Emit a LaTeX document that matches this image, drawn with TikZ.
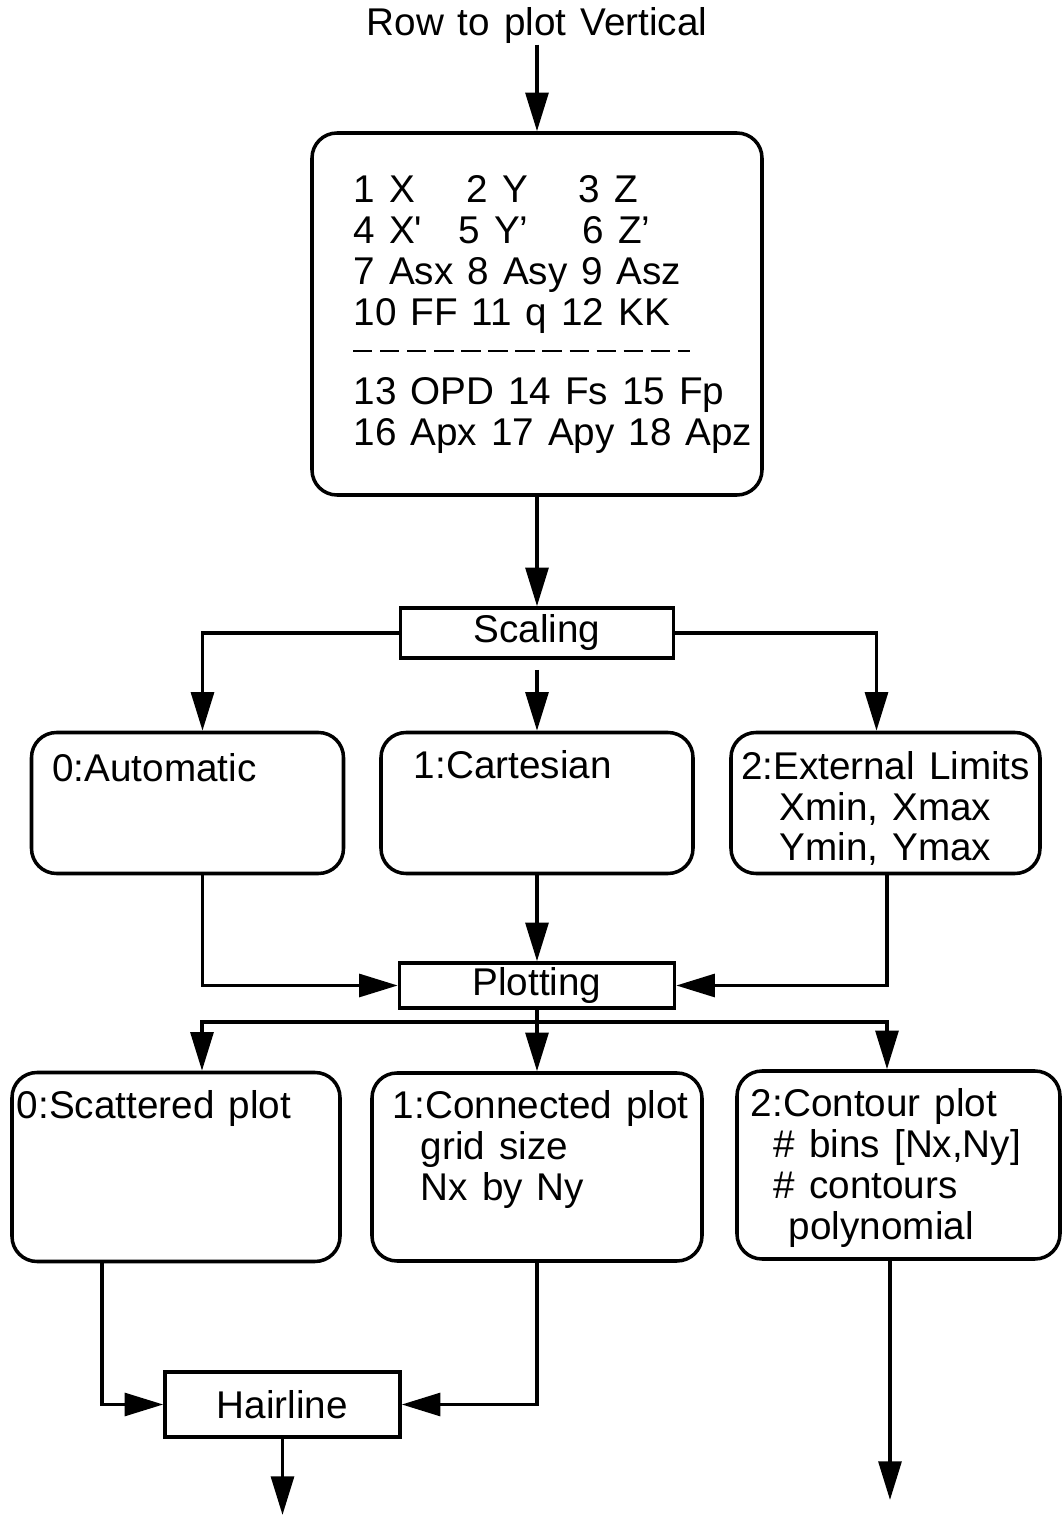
\documentclass[tikz,border=0pt]{standalone}
\usepackage{fontspec}
\setmainfont{Liberation Sans}[WordSpace=1.3]
\usetikzlibrary{arrows.meta,positioning}

\tikzset{
  optbox/.style={draw, line width=1pt, rounded corners=0.25cm, minimum width=3.12cm, minimum height=1.41cm, inner sep=0pt},
  stagebox/.style={draw, line width=1pt, inner sep=0pt},
  txt/.style={inner sep=0pt, align=left},
  flow/.style={line width=1pt, -{Triangle[length=11pt,width=6.5pt]}},
}

\begin{document}
\begin{tikzpicture}[font=\fontsize{11}{11.6}\selectfont]
  \useasboundingbox (0,0) rectangle (10.63,15.20); %page size

  \node[txt] (title) at (5.37,14.94) {Row to plot Vertical};

  %variable table
  \node[optbox, minimum width=4.50cm, minimum height=3.62cm] (vars) at (5.37,12.06) {};
  \node[txt, anchor=north west] (varlist) at (3.53,13.45)
    {\makebox[1.13cm][l]{1 X}\makebox[1.12cm][l]{2 Y}3 Z\\
     \makebox[1.05cm][l]{4 X\textquotesingle}\makebox[1.24cm][l]{5 Y'}6 Z'\\
     7 Asx 8 Asy 9 Asz\\
     10 FF 11 q 12 KK\\[0.39cm]
     13 OPD 14 Fs 15 Fp\\
     16 Apx 17 Apy 18 Apz};
  \draw[line width=0.7pt, dash pattern=on 5.5pt off 2.2pt] (3.53,11.69) -- (6.90,11.69); %separator

  %scaling stage
  \node[stagebox, minimum width=2.73cm, minimum height=0.50cm] (scal) at (5.37,8.87) {Scaling};
  \node[optbox] (auto) at (1.875,7.17) {};
  \node[optbox] (cart) at (5.37,7.17) {};
  \node[optbox, minimum width=3.09cm] (ext) at (8.855,7.17) {};
  \node[txt, below right=0.22cm and 0.22cm of auto.north west] (autotxt) {0:Automatic};
  \node[txt, below right=0.19cm and 0.34cm of cart.north west] (carttxt) {1:Cartesian};
  \node[txt, align=center, below=0.20cm of ext.north] (exttxt) {2:External Limits\\Xmin, Xmax\\Ymin, Ymax};

  %plotting stage
  \node[stagebox, minimum width=2.75cm, minimum height=0.45cm] (plot) at (5.37,5.345) {Plotting};
  \node[optbox, minimum width=3.28cm, minimum height=1.89cm] (scat) at (1.76,3.53) {};
  \node[optbox, minimum width=3.30cm, minimum height=1.88cm] (conn) at (5.37,3.53) {};
  \node[optbox, minimum width=3.23cm, minimum height=1.88cm] (cont) at (8.985,3.55) {};
  \node[txt, below right=0.19cm and 0.06cm of scat.north west] (scattxt) {0:Scattered plot};
  \node[txt, below right=0.19cm and 0.22cm of conn.north west] (conntxt)
    {1:Connected plot\\\hspace*{0.28cm}grid size\\\hspace*{0.28cm}Nx by Ny};
  \node[txt, below right=0.19cm and 0.15cm of cont.north west] (conttxt)
    {2:Contour plot\\\hspace*{0.23cm}\# bins [Nx,Ny]\\\hspace*{0.23cm}\# contours\\\hspace*{0.38cm}polynomial};

  %output
  \node[stagebox, minimum width=2.35cm, minimum height=0.65cm] (hair) at (2.825,1.155) {Hairline};
  \coordinate (hairexit) at (2.825,0.05);
  \coordinate (contexit) at (8.90,0.20);

  %connectors
  \draw[flow] (title) -- (vars);
  \draw[flow] (vars) -- (scal);
  \draw[flow] (scal.west) -| ([xshift=0.15cm]auto.north);
  \draw[flow, shorten <=0.1cm] (scal) -- (cart);
  \draw[flow] (scal.east) -| ([xshift=-0.09cm]ext.north);
  \draw[flow] ([xshift=0.15cm]auto.south) |- (plot.west);
  \draw[flow] (cart) -- (plot);
  \draw[flow] ([xshift=0.015cm]ext.south) |- (plot.east);
  \draw[flow] (plot.south) -- ++(0,-0.12) -| ([xshift=0.26cm]scat.north);
  \draw[flow] (plot) -- (conn);
  \draw[flow] (plot.south) -- ++(0,-0.12) -| ([xshift=-0.115cm]cont.north);
  \draw[flow] ([xshift=-0.74cm]scat.south) |- (hair.west);
  \draw[flow] (conn.south) |- (hair.east);
  \draw[flow] (hair) -- (hairexit);
  \draw[flow] (cont.south -| contexit) -- (contexit);
\end{tikzpicture}
\end{document}
